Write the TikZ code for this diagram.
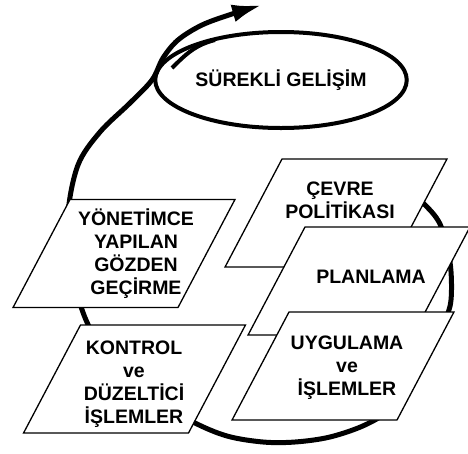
\documentclass[tikz,border=0pt]{standalone}
\usepackage{fontspec}
\setmainfont{Liberation Sans}
\usetikzlibrary{arrows.meta,shapes.geometric}

\begin{document}
\begin{tikzpicture}[
    x=1pt,y=1pt,
    every node/.style={font=\bfseries\fontsize{19.5}{23}\selectfont},
    card/.style={
        trapezium,
        trapezium stretches=true,
        trapezium left angle=62.2,
        trapezium right angle=117.8,
        minimum width=222pt,
        minimum height=108pt,
        inner sep=2pt,
        draw=black,
        fill=white,
        line width=1.3pt
    },
    lbl/.style={align=center, inner sep=0pt},
    ring/.style={draw=black, line width=4pt},
    cyc/.style={line width=5pt, line cap=round, -{Latex[length=30pt,width=18pt]}}
]
\useasboundingbox (0,0) rectangle (468,-453);

% Cycle arrow round the model
\coordinate (cycs) at (404,-188);
\coordinate (cyce) at (262,-5);
\draw[cyc] plot[smooth, tension=0.55] coordinates {
    (cycs) (422,-202) (440,-224) (450,-262) (451,-300) (444,-322)
    (428,-350) (410,-382) (392,-408) (365,-425) (330,-437) (295,-442)
    (263,-442) (227,-436) (193,-422) (150,-397) (112,-362) (86,-320)
    (72,-270) (68,-215) (78,-165) (100,-132) (130,-103) (152,-80)
    (163,-58) (178,-40) (202,-25) (232,-14) (cyce)};

% Continual improvement ring
\node[ellipse, ring, minimum width=242pt, minimum height=96pt] (surekli) at (281,-80) {SÜREKLİ GELİŞİM};
\draw[ring] (172,-68) to[out=45,in=194] (215,-40);

% Cards
\node[card] (yonet) at (124,-253.5) {};
\node[card] (kontrol) at (134.5,-379) {};
\node[card] (cevre) at (336,-213) {};
\node[card] (plan) at (359,-281) {};
\node[card] (uygul) at (343,-366) {};

% Card texts
\node[lbl] (yonetlbl) at (136,-254) {YÖNETİMCE\\YAPILAN\\GÖZDEN\\GEÇİRME};
\node[lbl] (kontrollbl) at (134,-384) {KONTROL\\ve\\DÜZELTİCİ\\İŞLEMLER};
\node[lbl] (cevrelbl) at (340,-200) {ÇEVRE\\POLİTİKASI};
\node[lbl] (planlbl) at (371,-277) {PLANLAMA};
\node[lbl] (uygullbl) at (347,-368) {UYGULAMA\\ve\\İŞLEMLER};

\end{tikzpicture}
\end{document}
